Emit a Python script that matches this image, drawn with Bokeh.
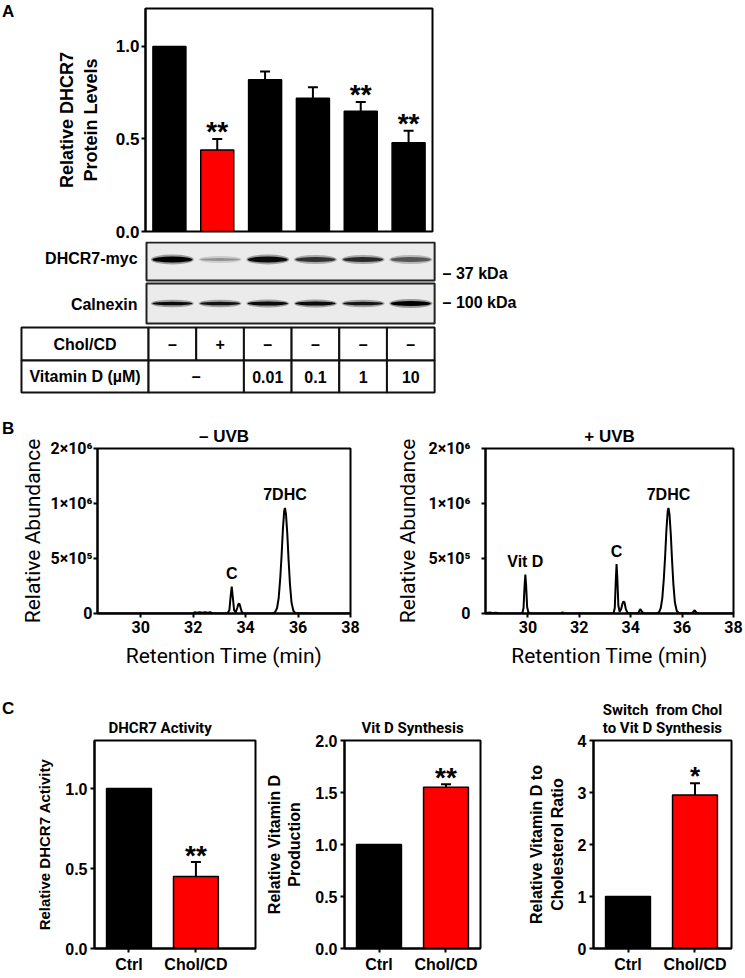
from bokeh.plotting import figure
from bokeh.layouts import column, row
from bokeh.models import FixedTicker, PrintfTickFormatter, Range1d, Div
from bokeh.core.properties import value
from bokeh.embed import file_html
from bokeh.resources import INLINE

SANS = "Liberation Sans"
NARROW = "Roboto"

# ---------------- Panel A data ----------------
a_lanes = [1, 2, 3, 4, 5, 6]
a_mean = [1.00, 0.44, 0.82, 0.72, 0.65, 0.48]
a_err_top = [1.00, 0.50, 0.865, 0.78, 0.70, 0.545]
a_color = ["#000000", "#ff0000", "#000000", "#000000", "#000000", "#000000"]
a_sig = ["", "**", "", "", "**", "**"]
a_yticks = [0.0, 0.5, 1.0]

# western blot: band darkness (0..1) and band thickness
blot_rows = ["DHCR7-myc", "Calnexin"]
blot_markers = ["\u2013 37 kDa", "\u2013 100 kDa"]
dhcr7_band = [1.00, 0.35, 0.95, 0.78, 0.82, 0.62]
dhcr7_thick = [6, 3, 6, 5, 5, 5]
calnexin_band = [0.95, 0.92, 0.95, 0.95, 0.90, 1.00]
calnexin_thick = [3.5, 3.5, 4, 4, 3.5, 5]

# treatment table
table_rows = ["Chol/CD", "Vitamin D (\u00b5M)"]
chol_cd = ["\u2013", "+", "\u2013", "\u2013", "\u2013", "\u2013"]
vitd_groups = [[1, 2], [3], [4], [5], [6]]
vitd_text = ["\u2013", "0.01", "0.1", "1", "10"]

# ---------------- Panel B data (abundance in units of 10^6) ----------------
minus_t = [28.35, 29.0, 30.0, 31.0, 32.0, 32.05, 32.15, 32.25, 32.35, 32.45, 32.55, 32.65, 32.72, 32.8,
           33.3, 33.38, 33.43, 33.47, 33.51, 33.56, 33.62, 33.68, 33.72, 33.76, 33.80, 33.85, 33.92,
           34.3, 35.0, 35.12, 35.2, 35.26, 35.32, 35.37, 35.42, 35.47, 35.5, 35.54, 35.59, 35.64, 35.69,
           35.75, 35.82, 35.9, 36.5, 37.0, 38.0]
minus_ab = [0, 0, 0, 0, 0, 0.012, 0.006, 0.012, 0.006, 0.012, 0.006, 0.012, 0.006, 0,
            0, 0.03, 0.16, 0.245, 0.15, 0.03, 0.01, 0.05, 0.085, 0.09, 0.06, 0.015, 0,
            0, 0, 0.01, 0.05, 0.14, 0.32, 0.52, 0.76, 0.93, 0.96, 0.90, 0.72, 0.48, 0.27,
            0.10, 0.025, 0.004, 0, 0, 0]
minus_ann = ["C", "7DHC"]
minus_ann_t = [33.47, 35.5]
minus_ann_ab = [0.245, 0.96]

plus_t = [28.35, 28.55, 28.65, 28.75, 28.9, 29.5, 29.78, 29.83, 29.87, 29.9, 29.93, 29.97, 30.02, 30.1,
          30.8, 31.3, 31.35, 31.4, 32.5, 33.33, 33.38, 33.42, 33.45, 33.48, 33.52, 33.57, 33.63, 33.68,
          33.72, 33.76, 33.81, 33.88, 34.2, 34.3, 34.37, 34.44, 34.52, 35.0, 35.1, 35.17, 35.23, 35.29,
          35.34, 35.39, 35.44, 35.47, 35.51, 35.56, 35.61, 35.66, 35.72, 35.79, 35.87, 36.35, 36.43,
          36.49, 36.55, 36.62, 37.0, 38.0]
plus_ab = [0.004, 0.008, 0.004, 0.008, 0, 0, 0, 0.05, 0.25, 0.355, 0.26, 0.06, 0.01, 0,
           0, 0, 0.012, 0, 0, 0, 0.05, 0.30, 0.45, 0.32, 0.07, 0.015, 0.04, 0.09,
           0.11, 0.10, 0.04, 0.005, 0, 0.008, 0.04, 0.015, 0, 0, 0.01, 0.05, 0.14, 0.32,
           0.52, 0.76, 0.93, 0.96, 0.90, 0.72, 0.48, 0.27, 0.10, 0.025, 0.004, 0, 0.012,
           0.03, 0.01, 0, 0, 0]
plus_ann = ["Vit D", "C", "7DHC"]
plus_ann_t = [29.9, 33.45, 35.47]
plus_ann_ab = [0.355, 0.45, 0.96]

b_xticks = [30, 32, 34, 36, 38]
# segmented y axis: 0..1e6 linear, upper segment (1e6..2e6) drawn at half scale
b_yticks = [0, 0.5, 1.0, 1.5]
b_ylabels = {0: "0", 0.5: "5\u00d710\u2075", 1.0: "1\u00d710\u2076", 1.5: "2\u00d710\u2076"}

# ---------------- Panel C data ----------------
c_groups = ["Ctrl", "Chol/CD"]
c_colors = ["#000000", "#ff0000"]
c1_mean = [1.0, 0.45]
c1_err = [1.0, 0.54]
c1_sig = ["", "**"]
c2_mean = [1.0, 1.55]
c2_err = [1.0, 1.58]
c2_sig = ["", "**"]
c3_mean = [1.0, 2.95]
c3_err = [1.0, 3.18]
c3_sig = ["", "*"]

LETTER_W = 16


def base_fig(**kw):
    p = figure(output_backend="svg", toolbar_location=None, **kw)
    p.xgrid.visible = False
    p.ygrid.visible = False
    p.background_fill_color = "white"
    p.border_fill_color = "white"
    p.outline_line_color = "black"
    p.outline_line_width = 2
    return p


def style_axes(p, tick_font, tick_size, label_font, label_size, label_style="bold"):
    for ax in p.axis:
        ax.axis_line_width = 2
        ax.axis_line_color = "black"
        ax.major_tick_line_width = 2
        ax.major_tick_in = 0
        ax.minor_tick_line_color = None
        ax.major_label_text_font = tick_font
        ax.major_label_text_font_size = tick_size
        ax.major_label_text_font_style = "bold"
        ax.major_label_text_color = "black"
        ax.axis_label_text_font = label_font
        ax.axis_label_text_font_size = label_size
        ax.axis_label_text_font_style = label_style
        ax.axis_label_text_color = "black"


def letter_div(txt, h, top):
    html = ('<div style="position:relative; left:2px; top:%dpx; font-family:\'Liberation Sans\';'
            ' font-weight:bold; font-size:17px; line-height:17px; color:black; white-space:nowrap;">%s</div>'
            % (top, txt))
    return Div(text=html, width=LETTER_W, height=h, margin=0)


def add_bars(p, xs, mean, err, colors, sig, width, star_size):
    p.vbar(x=xs, top=mean, width=width, fill_color=colors, line_color="black", line_width=1.5)
    ex = [x for x, m, e in zip(xs, mean, err) if e > m]
    em = [m for m, e in zip(mean, err) if e > m]
    ee = [e for m, e in zip(mean, err) if e > m]
    p.segment(x0=ex, y0=em, x1=ex, y1=ee, line_width=2, line_color="black")
    p.scatter(x=ex, y=ee, marker="dash", size=10, line_width=2, line_color="black")
    sx = [x for x, s in zip(xs, sig) if s]
    sy = [e for e, s in zip(err, sig) if s]
    st = [s for s in sig if s]
    p.text(x=sx, y=sy, text=st, text_font=value(SANS), text_font_style="bold",
           text_font_size=star_size, text_align="center", text_baseline="alphabetic",
           y_offset=-7, text_color="black")


# ---------------- Panel A bar chart ----------------
pA = base_fig(frame_width=287, frame_height=223, min_border_left=145 - LETTER_W, min_border_right=313,
              min_border_top=8, min_border_bottom=10, x_range=(0.5, 6.5), y_range=(0, 1.205))
add_bars(pA, a_lanes, a_mean, a_err_top, a_color, a_sig, 0.69, "28px")
pA.xaxis.visible = False
pA.yaxis.ticker = FixedTicker(ticks=a_yticks)
pA.yaxis.formatter = PrintfTickFormatter(format="%.1f")
pA.yaxis.axis_label = "Relative DHCR7\nProtein Levels"
style_axes(pA, SANS, "17px", SANS, "18px")
pA.yaxis.major_tick_out = 4
pA.yaxis.major_label_standoff = 2
pA.yaxis.axis_label_standoff = 12

# ---------------- Western blot + table ----------------
pW = figure(output_backend="svg", toolbar_location=None, frame_width=745, frame_height=154,
            min_border_left=0, min_border_right=0, min_border_top=0, min_border_bottom=0,
            x_range=Range1d(-2.605, 13.02), y_range=Range1d(154, 0))
pW.axis.visible = False
pW.grid.visible = False
pW.outline_line_color = None
pW.background_fill_color = "white"
pW.border_fill_color = "white"

# layout of rows (vertical pixel positions inside this strip)
blot_box = [(1, 39), (42, 82)]
band_y = [18, 62]
label_y = [17, 63]
marker_y = [32, 61]
table_top, table_mid, table_bot = 86, 119, 151
lane_left, lane_right = 0.457, 6.5
label_col_left = -2.165

for (bt, bb) in blot_box:
    pW.quad(left=lane_left, right=lane_right, top=bt, bottom=bb, fill_color="#ebebeb",
            line_color="#222222", line_width=2)


def gray(d):
    v = int(round(225 * (1 - d)))
    return "#%02x%02x%02x" % (v, v, v)


for dark, thick, yc in [(dhcr7_band, dhcr7_thick, band_y[0]), (calnexin_band, calnexin_thick, band_y[1])]:
    pW.ellipse(x=a_lanes, y=[yc] * 6, width=0.9, height=[t + 4 for t in thick],
               fill_color=[gray(d) for d in dark], fill_alpha=0.35, line_color=None)
    pW.ellipse(x=a_lanes, y=[yc] * 6, width=0.84, height=thick,
               fill_color=[gray(d) for d in dark], line_color=None)

pW.text(x=[0.27, 0.27], y=label_y, text=blot_rows, text_font=value(SANS), text_font_style="bold",
        text_font_size="16px", text_align="right", text_baseline="middle", text_color="black")
pW.text(x=[6.667, 6.667], y=marker_y, text=blot_markers, text_font=value(SANS), text_font_style="bold",
        text_font_size="16px", text_align="left", text_baseline="middle", text_color="black")

# table cells
cell_l, cell_r, cell_t, cell_b = [], [], [], []
for top_, bot_ in [(table_top, table_mid), (table_mid, table_bot)]:
    cell_l.append(label_col_left); cell_r.append(0.5); cell_t.append(top_); cell_b.append(bot_)
for k in a_lanes:
    cell_l.append(k - 0.5); cell_r.append(k + 0.5); cell_t.append(table_top); cell_b.append(table_mid)
for g in vitd_groups:
    cell_l.append(g[0] - 0.5); cell_r.append(g[-1] + 0.5); cell_t.append(table_mid); cell_b.append(table_bot)
pW.quad(left=cell_l, right=cell_r, top=cell_t, bottom=cell_b, fill_color="white",
        line_color="#111111", line_width=2)

row1_y = (table_top + table_mid) / 2
row2_y = (table_mid + table_bot) / 2
lab_x = (label_col_left + 0.5) / 2
pW.text(x=[lab_x, lab_x], y=[row1_y, row2_y], text=table_rows, text_font=value(SANS),
        text_font_style="bold", text_font_size="16px", text_align="center", text_baseline="middle",
        text_color="black")
pW.text(x=a_lanes, y=[row1_y] * 6, text=chol_cd, text_font=value(SANS), text_font_style="bold",
        text_font_size="16px", text_align="center", text_baseline="middle", text_color="black")
pW.text(x=[sum(g) / len(g) for g in vitd_groups], y=[row2_y] * len(vitd_groups), text=vitd_text,
        text_font=value(SANS), text_font_style="bold", text_font_size="16px", text_align="center",
        text_baseline="middle", text_color="black")


# ---------------- Panel B chromatograms ----------------
def chrom(t, ab, ann, ann_t, ann_ab, title, fw, left, right, tick_standoff, label_standoff):
    p = base_fig(frame_width=fw, frame_height=165, min_border_left=left, min_border_right=right,
                 min_border_top=53, min_border_bottom=77, x_range=(28.35, 38.0), y_range=(0, 1.5))
    p.line(t, ab, line_width=2, line_color="black")
    p.text(x=ann_t, y=ann_ab, text=ann, text_font=value(SANS), text_font_style="bold",
           text_font_size="16px", text_align="center", text_baseline="middle", y_offset=-13,
           text_color="black")
    p.xaxis.ticker = FixedTicker(ticks=b_xticks)
    p.yaxis.ticker = FixedTicker(ticks=b_yticks)
    p.yaxis.major_label_overrides = b_ylabels
    p.xaxis.axis_label = "Retention Time (min)"
    p.yaxis.axis_label = "Relative Abundance"
    style_axes(p, NARROW, "16px", NARROW, "21px", "normal")
    for ax in p.axis:
        ax.major_tick_out = 4
    p.yaxis.major_label_standoff = tick_standoff
    p.xaxis.major_label_standoff = 3
    p.yaxis.axis_label_standoff = label_standoff
    p.xaxis.axis_label_standoff = 8
    p.title.text = title
    p.title.align = "center"
    p.title.text_font = SANS
    p.title.text_font_size = "17px"
    p.title.text_font_style = "bold"
    p.title.text_color = "black"
    p.title.standoff = 6
    return p


pB1 = chrom(minus_t, minus_ab, minus_ann, minus_ann_t, minus_ann_ab, "\u2013 UVB", 253,
            97 - LETTER_W, 22, 1, 3)
pB2 = chrom(plus_t, plus_ab, plus_ann, plus_ann_t, plus_ann_ab, "+ UVB", 248, 113, 12, 11, 6)


# ---------------- Panel C bar charts ----------------
def cpanel(mean, err, sig, y_end, yticks, fmt, ylabel, ylabel_size, title, title_align, title_off,
           fw, left, right, x_end, star):
    p = base_fig(frame_width=fw, frame_height=208, min_border_left=left, min_border_right=right,
                 min_border_top=50, min_border_bottom=30, x_range=(0.485, x_end), y_range=(0, y_end))
    add_bars(p, [1, 2], mean, err, c_colors, sig, 0.67, star)
    p.xaxis.ticker = FixedTicker(ticks=[1, 2])
    p.xaxis.major_label_overrides = {1: c_groups[0], 2: c_groups[1]}
    p.yaxis.ticker = FixedTicker(ticks=yticks)
    p.yaxis.formatter = PrintfTickFormatter(format=fmt)
    p.yaxis.axis_label = ylabel
    style_axes(p, SANS, "16px", SANS, ylabel_size)
    for ax in p.axis:
        ax.major_tick_out = 4
    p.xaxis.major_label_standoff = 3
    p.yaxis.major_label_standoff = 3
    p.yaxis.axis_label_standoff = 9
    p.title.text = title
    p.title.align = title_align
    p.title.offset = title_off
    p.title.text_font = NARROW
    p.title.text_font_size = "15px"
    p.title.text_font_style = "bold"
    p.title.text_color = "black"
    p.title.standoff = 7
    return p


pC1 = cpanel(c1_mean, c1_err, c1_sig, 1.3, [0, 0.5, 1.0], "%.1f", "Relative DHCR7 Activity", "15px",
             "DHCR7 Activity", "left", 14, 161, 94 - LETTER_W, 7, 2.89, "28px")
pC2 = cpanel(c2_mean, c2_err, c2_sig, 2.0, [0, 0.5, 1.0, 1.5, 2.0], "%.1f",
             "Relative Vitamin D\nProduction", "16px", "Vit D Synthesis", "center", 0,
             136, 78, 34, 2.515, "28px")
pC3 = cpanel(c3_mean, c3_err, c3_sig, 4.0, [0, 1, 2, 3, 4], "%d",
             "Relative Vitamin D to\nCholesterol Ratio", "16px",
             "Switch\u00a0 from Chol\nto Vit D Synthesis", "center", 0, 138, 79, 18, 2.545, "26px")

rowA = row(letter_div("A", 241, 3), pA, spacing=0)
rowW = row(pW, spacing=0)
rowB = row(letter_div("B", 295, 25), pB1, pB2, spacing=0)
rowC = row(letter_div("C", 288, 10), pC1, pC2, pC3, spacing=0)
layout = column(rowA, rowW, rowB, rowC, spacing=0)
open("out.html", "w").write(file_html(layout, INLINE, title="DHCR7 figure"))
